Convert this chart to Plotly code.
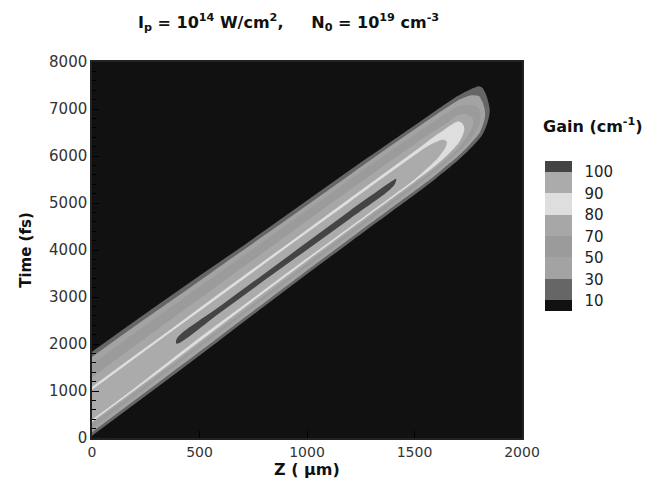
import numpy as np
import plotly.graph_objects as go

# ---------------- data ----------------
# z stations (um) along the target and time offsets (fs) relative to the
# light-speed frame t = z / c  (c = 0.3 um/fs)
z_stations = [0, 200, 400, 600, 800, 1000, 1200, 1400, 1500, 1600, 1700, 1750, 1800, 1850, 1900, 2000]
offsets = [-200, -100, 0, 100, 200, 300, 400, 500, 600, 700, 800, 900, 1000,
           1100, 1200, 1300, 1400, 1500, 1600, 1700, 1800, 1900, 2000]

# gain (cm^-1): one row per z station, one value per offset
gain_rows = [
    [0, 0, 3, 25, 48, 68, 93, 96, 97, 97, 97, 96, 94, 78, 73, 69, 64, 57, 47, 34, 18, 3, 0],          # 0
    [0, 0, 2, 20, 45, 66, 90, 96, 98, 98, 98, 97, 95, 79, 74, 70, 65, 58, 47, 33, 15, 2, 0],          # 200
    [0, 0, 1, 15, 40, 62, 85, 95, 98, 100.3, 100.2, 98, 95, 79, 74, 70, 65, 57, 45, 28, 10, 1, 0],    # 400
    [0, 0, 0, 10, 34, 57, 80, 94, 98, 100.9, 101.0, 98, 95, 80, 74, 70, 64, 56, 42, 24, 6, 0, 0],     # 600
    [0, 0, 0, 6, 28, 52, 76, 93, 97, 101.3, 101.8, 97, 95, 80, 74, 69, 63, 54, 38, 18, 3, 0, 0],      # 800
    [0, 0, 0, 3, 22, 48, 72, 92, 97.5, 101.8, 102.6, 97, 95, 80, 74, 69, 62, 52, 34, 14, 2, 0, 0],    # 1000
    [0, 0, 0, 2, 18, 45, 70, 92, 98, 102.2, 103.0, 97.5, 94, 80, 74, 68, 61, 50, 30, 10, 1, 0, 0],    # 1200
    [0, 0, 0, 2, 16, 43, 68, 91, 96.5, 100.8, 101.0, 96, 93, 80, 73, 67, 59, 47, 26, 6, 0, 0, 0],     # 1400
    [0, 0, 0, 2, 15, 42, 67, 90, 95, 97, 97, 95, 92, 80, 72, 66, 57, 44, 22, 4, 0, 0, 0],             # 1500
    [0, 0, 0, 1, 12, 38, 63, 86, 91, 93, 93, 92, 89, 81, 71, 64, 55, 40, 18, 2, 0, 0, 0],             # 1600
    [0, 0, 0, 0, 6, 25, 50, 72, 82, 86, 87, 86, 84, 78, 68, 58, 48, 32, 12, 0, 0, 0, 0],              # 1700
    [0, 0, 0, 0, 2, 14, 35, 55, 68, 74, 76, 75, 71, 65, 56, 46, 36, 22, 6, 0, 0, 0, 0],               # 1750
    [0, 0, 0, 0, 0, 5, 18, 34, 46, 54, 57, 55, 50, 44, 36, 28, 19, 9, 2, 0, 0, 0, 0],                 # 1800
    [0, 0, 0, 0, 0, 0, 1, 3, 6, 9, 10, 9, 7, 5, 3, 1, 0, 0, 0, 0, 0, 0, 0],                           # 1850
    [0] * 23,                                                                                          # 1900
    [0] * 23,                                                                                          # 2000
]

gain_levels = [10, 30, 50, 70, 80, 90, 100]
band_colors = ['#111111', '#666666', '#a3a3a3', '#9b9b9b', '#a7a7a7', '#dedede', '#ababab', '#444444']

x_ticks = [0, 500, 1000, 1500, 2000]
y_ticks = [0, 1000, 2000, 3000, 4000, 5000, 6000, 7000, 8000]

C_UM_PER_FS = 0.3
FONT = 'DejaVu Sans, Liberation Sans, Arial'

# ---------------- build ----------------
A = np.array(z_stations, dtype=float)
B = np.array(offsets, dtype=float)
G = np.array(gain_rows, dtype=float).T  # shape [len(B), len(A)]

X2 = np.tile(A, (len(B), 1))
Y2 = A[None, :] / C_UM_PER_FS + B[:, None]

# map non-uniform gain levels to a uniform level index for the filled contours
idx_in = [0] + gain_levels + [120]
idx_out = list(range(len(idx_in)))
Zi = np.interp(G, idx_in, idx_out)

n = len(band_colors)
colorscale = [[k / (n - 1), c] for k, c in enumerate(band_colors)]

hidden_axis = dict(showgrid=False, showline=False, showticklabels='none', startline=False,
                   endline=False, minorgridcount=0, smoothing=0, gridcolor='rgba(0,0,0,0)')

fig = go.Figure()
fig.add_trace(go.Carpet(a=A, b=B, x=X2, y=Y2, carpet='c1', aaxis=hidden_axis, baxis=hidden_axis))
fig.add_trace(go.Contourcarpet(
    a=A, b=B, z=Zi.tolist(), carpet='c1',
    autocontour=False,
    contours=dict(start=1, end=len(gain_levels), size=1, coloring='fill', showlines=False),
    line=dict(width=0),
    colorscale=colorscale,
    colorbar=dict(
        x=1.0535, xanchor='left', xpad=0, y=0.536, yanchor='middle',
        len=150, lenmode='pixels', ypad=0,
        thickness=27, outlinewidth=0,
        tickvals=list(range(1, len(gain_levels) + 1)),
        ticktext=[str(v) for v in gain_levels],
        ticks='outside', ticklen=10, tickcolor='rgba(0,0,0,0)',
        tickfont=dict(family=FONT, size=15, color='#222'),
    ),
))

fig.update_layout(
    width=651, height=479,
    margin=dict(l=92, r=129, t=62, b=41, autoexpand=False),
    paper_bgcolor='white', plot_bgcolor='#111111',
    font=dict(family=FONT, color='#222'),
    showlegend=False,
    xaxis=dict(range=[0, 2000], tickvals=x_ticks, ticks='inside', ticklen=7, tickcolor='#000',
               showline=True, linecolor='#222', linewidth=1.5, mirror=True, showgrid=False,
               zeroline=False, tickfont=dict(size=14, color='#333'), automargin=False),
    yaxis=dict(range=[0, 8000], tickvals=y_ticks, ticks='inside', ticklen=7, tickcolor='#000',
               minor=dict(ticks='inside', dtick=200, ticklen=4, tickcolor='#000'),
               showline=True, linecolor='#222', linewidth=1.5, mirror=True, showgrid=False,
               zeroline=False, tickfont=dict(size=15, color='#333'), automargin=False,
               title=dict(text='<b>Time (fs)</b>', font=dict(size=15, color='#111'), standoff=14)),
    annotations=[
        dict(text='<b>I<sub>p</sub> = 10<sup>14</sup> W/cm<sup>2</sup>,&nbsp;&nbsp;&nbsp;&nbsp;&nbsp;N<sub>0</sub> = 10<sup>19</sup> cm<sup>-3</sup></b>',
             xref='paper', yref='paper', x=0.458, y=1.105, xanchor='center', yanchor='middle',
             showarrow=False, font=dict(size=16, color='#111')),
        dict(text='<b>Gain (cm<sup>-1</sup>)</b>', xref='paper', yref='paper',
             x=1.165, y=0.83, xanchor='center', yanchor='middle', showarrow=False,
             font=dict(size=16, color='#111')),
        dict(text='<b>Z ( μm)</b>', xref='paper', yref='paper',
             x=0.5, y=-0.084, xanchor='center', yanchor='middle', showarrow=False,
             font=dict(size=16, color='#111')),
    ],
)

fig.write_html('out.html')
